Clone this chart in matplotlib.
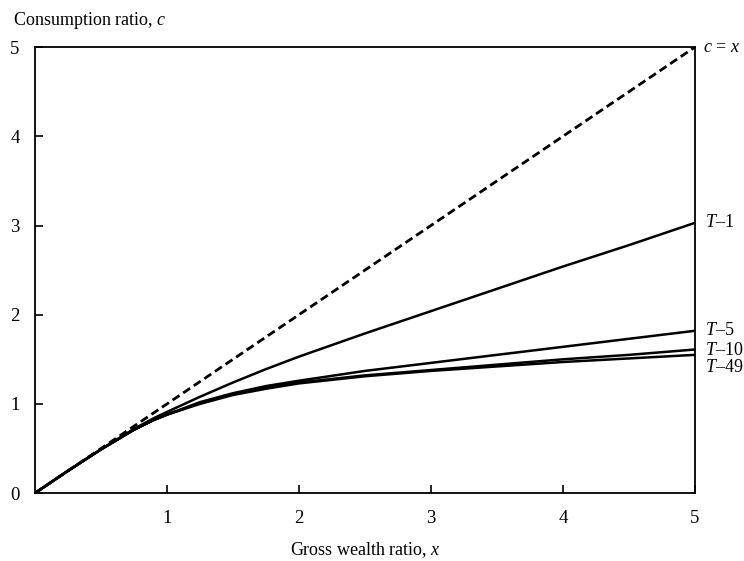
import matplotlib
matplotlib.use("Agg")
import matplotlib.pyplot as plt

# Data
x = [0, 0.25, 0.5, 0.75, 0.9, 1.0, 1.25, 1.5, 1.75, 2.0, 2.5, 3.0, 3.5, 4.0, 4.5, 5.0]
c_T1 = [0, 0.25, 0.49, 0.72, 0.84, 0.91, 1.08, 1.24, 1.39, 1.53, 1.79, 2.04, 2.29, 2.54, 2.78, 3.03]
c_T5 = [0, 0.25, 0.49, 0.71, 0.82, 0.88, 1.02, 1.12, 1.20, 1.26, 1.37, 1.46, 1.55, 1.64, 1.73, 1.82]
c_T10 = [0, 0.25, 0.49, 0.71, 0.82, 0.88, 1.01, 1.11, 1.18, 1.24, 1.32, 1.38, 1.44, 1.50, 1.55, 1.61]
c_T49 = [0, 0.25, 0.49, 0.71, 0.82, 0.88, 1.00, 1.10, 1.17, 1.23, 1.31, 1.37, 1.42, 1.47, 1.51, 1.55]
diag = [0, 5]
series = [("$T$\u20131", c_T1), ("$T$\u20135", c_T5), ("$T$\u201310", c_T10), ("$T$\u201349", c_T49)]
label_y = [3.03, 1.82, 1.60, 1.41]

plt.rcParams["font.family"] = "Liberation Serif"
plt.rcParams["mathtext.fontset"] = "custom"
plt.rcParams["mathtext.rm"] = "Liberation Serif"
plt.rcParams["mathtext.it"] = "Liberation Serif:italic"

fig = plt.figure(figsize=(7.44, 5.61), dpi=100)
ax = fig.add_axes([0.047, 0.121, 0.887, 0.795])

ax.plot(diag, diag, color="black", lw=2, linestyle=(0, (3, 1.6)))
for name, vals in series:
    ax.plot(x, vals, color="black", lw=1.8)

ax.set_xlim(0, 5)
ax.set_ylim(0, 5)
ax.set_xticks([1, 2, 3, 4, 5])
ax.set_yticks([0, 1, 2, 3, 4, 5])
ax.tick_params(direction="in", length=6, width=1.2, labelsize=13.5, colors="black")
ax.tick_params(axis="x", pad=12)
ax.tick_params(axis="y", pad=11)
for s in ax.spines.values():
    s.set_linewidth(1.3)

ax.set_xlabel("Gross wealth ratio, $x$", fontsize=13, labelpad=10)
fig.text(0.017, 0.963, "Consumption ratio, $c$", fontsize=13, ha="left", va="center")

ax.annotate("$c$ = $x$", xy=(5, 5), xytext=(6, 0), textcoords="offset points",
            fontsize=13, va="center", ha="left", annotation_clip=False)
for (name, vals), ly in zip(series, label_y):
    ax.annotate(name, xy=(5, ly), xytext=(7, 0), textcoords="offset points",
                fontsize=13, va="center", ha="left", annotation_clip=False)

fig.savefig("out.png", dpi=100)
